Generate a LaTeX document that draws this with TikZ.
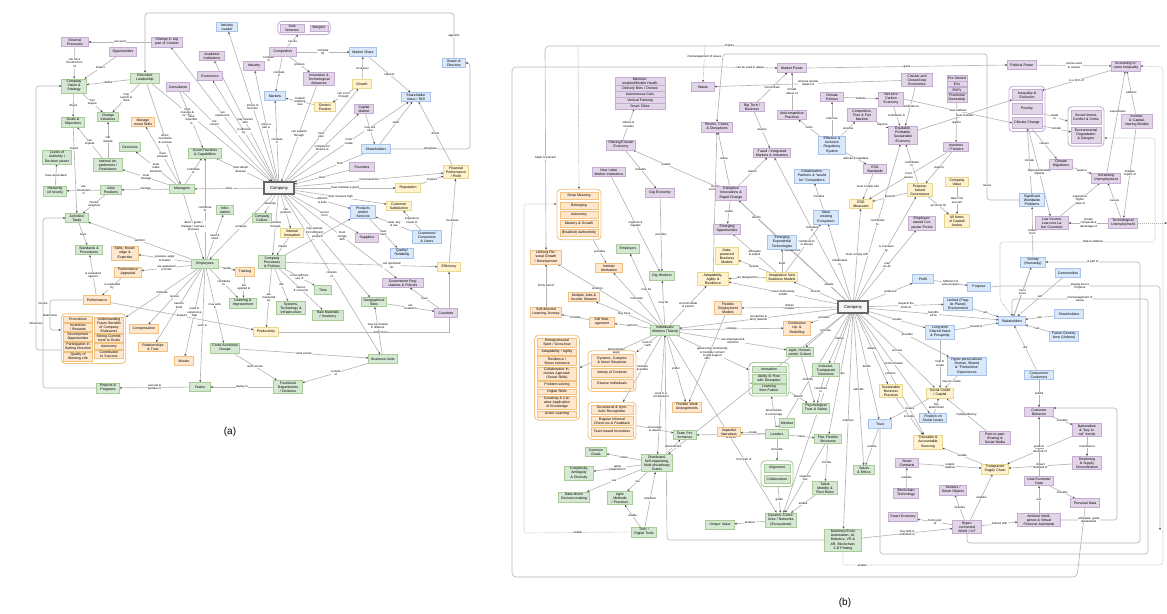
\documentclass[tikz,border=0pt]{standalone}
\usepackage{fontspec}
\setmainfont{Liberation Sans}
\usetikzlibrary{arrows.meta,fit,positioning,backgrounds}

\definecolor{grnfill}{HTML}{D5E8D4}
\definecolor{grnline}{HTML}{A9CB97}
\definecolor{purfill}{HTML}{E1D5E7}
\definecolor{purline}{HTML}{C4ACD3}
\definecolor{blufill}{HTML}{DAE8FC}
\definecolor{bluline}{HTML}{A8C3EA}
\definecolor{yelfill}{HTML}{FFF2CC}
\definecolor{yelline}{HTML}{E8D88E}
\definecolor{orgfill}{HTML}{FFE6CC}
\definecolor{orgline}{HTML}{EFC27F}
\definecolor{linkgray}{HTML}{B5B5B5}

\tikzset{box/.style={draw, line width=0.7pt, align=center, inner sep=1.3pt,
        font=\fontsize{3.5}{4.1}\selectfont, text width=20pt, minimum height=9pt},
    greenbox/.style={box, draw=grnline, fill=grnfill},
    purplebox/.style={box, draw=purline, fill=purfill},
    bluebox/.style={box, draw=bluline, fill=blufill},
    yellowbox/.style={box, draw=yelline, fill=yelfill},
    orangebox/.style={box, draw=orgline, fill=orgfill},
    tw/.style={text width=#1pt},
    item/.style={line width=0.45pt, inner sep=0.8pt, minimum height=5.5pt},
    grp/.style={draw, rounded corners=4pt, line width=0.9pt, inner sep=2.2pt},
    company/.style={draw=black!60, line width=1.3pt, fill=black!4, font=\fontsize{4.2}{5}\selectfont,
        minimum width=30pt, minimum height=12pt, inner sep=1pt},
    link/.style={draw=linkgray, line width=0.65pt, -{Stealth[length=2.2pt, width=2pt, color=black!75]}},
    dotlink/.style={link, dash pattern=on 1pt off 1pt},
    lbl/.style={font=\fontsize{2.9}{3.3}\selectfont, fill=white, inner sep=0.4pt, align=center, text=black},
    panel label/.style={font=\fontsize{10}{12}\selectfont},
}

\begin{document}
\begin{tikzpicture}[x=1pt, y=-1pt]
\useasboundingbox (0,0) rectangle (1167,613);

% ---------------- panel (a) ----------------
\node[purplebox, tw=24] (extp) at (75,42) {External Pressures};
\node[purplebox, tw=28] (chctx) at (167,42) {Change in any part of Context};
\node[bluebox, tw=18] (indlead) at (227,27) {Industry Leader};
\node[purplebox, tw=24] (opps) at (123,52) {Opportunities};
\node[purplebox, tw=22] (acad) at (212,56) {Academic Institutions};
\node[purplebox, tw=18] (indus) at (254,66) {Industry};
\node[greenbox, tw=22] (vision) at (74,86) {Company Vision \& Strategy};
\node[greenbox, tw=26] (exec) at (145,78) {Executive Leadership};
\node[purplebox, tw=22] (econ) at (210,76) {Economics};
\node[purplebox, tw=20] (consult) at (178,87) {Consultants};
\node[greenbox, tw=20] (goals) at (73,122) {Goals \& Objectives};
\node[greenbox, tw=18] (chinit) at (108,117) {Change Initiatives};
\node[orangebox, tw=20] (moral) at (143,122) {Manage moral Skills};
\node[greenbox, tw=18] (decis) at (130,147) {Decisions};
\node[greenbox, tw=30] (goodp) at (205,153) {Good Practices \& Capabilities};
\node[greenbox, tw=26] (levels) at (57,157) {Levels of Authority / Decision power};
\node[greenbox, tw=26] (imped) at (108,165) {Internal Impediments / Resistance};
\node[greenbox, tw=20] (hier) at (55,191) {Hierarchy (of levels)};
\node[greenbox, tw=18] (jobs) at (111,190) {Jobs/ Positions};
\node[greenbox, tw=22] (mgrs) at (182,189) {Managers};

\node[purplebox, item, tw=22] (jvent) at (292,28) {Joint Ventures};
\node[purplebox, item, tw=16] (mergers) at (319,28) {Mergers};
\node[grp, draw=purline, fit=(jvent)(mergers)] (jv) {};
\node[purplebox, tw=24] (compet) at (283,52) {Competitors};
\node[bluebox, tw=24] (mshare) at (363,52) {Market Share};
\node[purplebox, tw=28] (innov) at (319,79) {Innovation \& Technological Advances};
\node[yellowbox, tw=16] (growth) at (362,84) {Growth};
\node[bluebox, tw=18] (markets) at (275,96) {Markets};
\node[yellowbox, tw=18] (gpos) at (325,107) {Generic Position};
\node[purplebox, tw=16] (capmkt) at (364,109) {Capital Market};
\node[bluebox, tw=26] (shv) at (416,97) {Shareholder Value / ROI};
\node[bluebox, tw=20] (board) at (454,63) {Board of Directors};
\node[bluebox, tw=26] (shold) at (376,149) {Shareholders};
\node[purplebox, tw=22] (found) at (362,167) {Founders};
\node[yellowbox, tw=22] (finperf) at (456,172) {Financial Performance / Profit};
\node[company] (compA) at (279,188) {Company};
\node[yellowbox, tw=22] (reput) at (408,188) {Reputation};

\node[yellowbox, tw=22] (custsat) at (399,206) {Customer Satisfaction};
\node[greenbox, tw=16] (culture) at (262,218) {Company Culture};
\node[bluebox, tw=22] (prods) at (363,212) {Products and/or Services};
\node[yellowbox, tw=20] (intinn) at (292,233) {Internal Innovation};
\node[purplebox, tw=20] (suppl) at (367,238) {Suppliers};
\node[bluebox, tw=26] (custs) at (427,237) {Customers/ Consumers \& Users};
\node[bluebox, tw=20] (qual) at (402,253) {Quality/ Reliability};
\node[greenbox, tw=24] (procs) at (272,262) {Company Processes \& Policies};
\node[yellowbox, tw=20] (effic) at (449,267) {Efficiency};
\node[purplebox, tw=38] (govreg) at (403,283) {Government Regulations \& Policies};
\node[greenbox, tw=14] (time) at (323,290) {Time};
\node[greenbox, tw=26] (systech) at (291,308) {Systems, Technology \& Infrastructure};
\node[greenbox, tw=28] (rawmat) at (328,315) {Raw Materials / Inventory};
\node[greenbox, tw=22] (geo) at (374,302) {Geographical Sites};
\node[purplebox, tw=20] (countries) at (446,313) {Countries};
\node[yellowbox, tw=22] (prodty) at (266,332) {Productivity};
\node[greenbox, tw=26] (bu) at (383,359) {Business Units};
\node[greenbox, tw=26] (funcdep) at (288,387) {Functional Departments / Divisions};

\node[greenbox, tw=20] (acts) at (77,218) {Activities/ Tasks};
\node[greenbox, tw=15] (info) at (225,210) {Infor-mation};
\node[greenbox, tw=24] (stds) at (89,250) {Standards \& Procedures};
\node[orangebox, tw=24] (skills) at (125,253) {Skills, Knowledge \& Expertise};
\node[greenbox, tw=24] (emps) at (205,264) {Employees};
\node[orangebox, tw=16] (train) at (245,272) {Training};
\node[orangebox, tw=24] (appr) at (128,272) {Performance Appraisal};
\node[orangebox, tw=24] (perf) at (97,300) {Performance};
\node[greenbox, tw=24] (learn) at (243,303) {Learning \& Improvement};
% motivation group
\node[orangebox, item, tw=27] (m1) at (78,319) {Promotions};
\node[orangebox, item, tw=27, below=0.6pt of m1] (m2) {Incentives / Rewards};
\node[orangebox, item, tw=27, below=0.6pt of m2] (m3) {Development Opportunities};
\node[orangebox, item, tw=27, below=0.6pt of m3] (m4) {Participation in Setting Direction};
\node[orangebox, item, tw=27, below=0.6pt of m4] (m5) {Quality of Working Life};
\node[orangebox, item, tw=27] (m6) at (109,325) {Understanding Future Benefits of Company Endeavors};
\node[orangebox, item, tw=27, below=0.6pt of m6] (m7) {Strong Commitment to Goals};
\node[orangebox, item, tw=27, below=0.6pt of m7] (m8) {Autonomy};
\node[orangebox, item, tw=27, below=0.6pt of m8] (m9) {Contribution to Success};
\node[grp, draw=orgline, fit=(m1)(m5)(m6)(m9)] (motgrp) {};
\node[orangebox, tw=26] (comp) at (144,329) {Compensation};
\node[orangebox, tw=26] (reltr) at (153,347) {Relationships \& Trust};
\node[orangebox, tw=16] (morale) at (184,361) {Morale};
\node[greenbox, tw=26] (xfunc) at (225,348) {Cross-functional Groups};
\node[greenbox, tw=18] (teams) at (200,387) {Teams};
\node[greenbox, tw=20] (projs) at (108,388) {Projects \& Programs};

\node[panel label] at (230,432) {(a)};

% ---------------- panel (b) ----------------
\node[purplebox, item, tw=48] (st1) at (640,81) {Machine-enabled/Mobile Health};
\node[purplebox, item, tw=48, below=0pt of st1] (st2) {Delivery Bots / Drones};
\node[purplebox, item, tw=48, below=0pt of st2] (st3) {Autonomous Cars};
\node[purplebox, item, tw=48, below=0pt of st3] (st4) {Vertical Farming};
\node[purplebox, item, tw=48, below=0pt of st4] (st5) {Smart Cities};
\node[fit=(st1)(st5), inner sep=0pt] (bstack) {};
\node[purplebox, tw=26] (bshare) at (621,145) {Sharing/Circular Economy};
\node[purplebox, tw=30] (blabor) at (609,172) {New Labor Market Institutions};
\node[purplebox, tw=26] (bgig) at (660,193) {Gig Economy};
% meaning group
\node[orangebox, item, tw=36, minimum height=7pt] (mn1) at (579,196) {Deep Meaning};
\node[orangebox, item, tw=36, minimum height=7pt, below=1.8pt of mn1] (mn2) {Belonging};
\node[orangebox, item, tw=36, minimum height=7pt, below=1.8pt of mn2] (mn3) {Autonomy};
\node[orangebox, item, tw=36, minimum height=7pt, below=1.8pt of mn3] (mn4) {Mastery \& Growth};
\node[orangebox, item, tw=36, minimum height=7pt, below=1.8pt of mn4] (mn5) {(Enabled) Authenticity};
\node[grp, draw=orgline, fit=(mn1)(mn5), inner sep=3pt] (meaning) {};
\node[orangebox, tw=28] (blifelong) at (546,257) {Lifelong Personal Growth / Development};
\node[greenbox, tw=20] (bemployers) at (628,249) {Employers};
\node[orangebox, tw=24] (bintr) at (609,268) {Intrinsic Motivation};
\node[greenbox, tw=22] (bgigw) at (662,276) {Gig Workers};
\node[orangebox, tw=28] (bmulti) at (584,297) {Multiple Jobs \& Income Streams};
\node[orangebox, tw=28] (bselfdir) at (546,312) {Self-directed Learning Journey};
\node[orangebox, tw=22] (bselfm) at (602,322) {Self Management};
\node[greenbox, tw=26] (bindiv) at (665,330) {Individuals/ Workers (Talent)};

\node[purplebox, tw=26] (bmpower) at (792,68) {Market Power};
\node[purplebox, tw=20] (bwaste) at (703,87) {Waste};
\node[purplebox, tw=22] (bbigtech) at (752,107) {Big Tech / Business};
\node[purplebox, tw=26] (banti) at (792,115) {Anticompetitive Practices};
\node[purplebox, tw=20] (bclimpol) at (832,97) {Climate Policies};
\node[purplebox, tw=28] (bshocks) at (717,127) {Shocks, Crises, \& Disruptions};
\node[purplebox, tw=34] (bfused) at (772,153) {Fused / Integrated Markets \& Industries};
\node[bluebox, tw=24] (bregsys) at (832,145) {Effective \& Inclusive Regulatory System};
\node[bluebox, tw=32] (bcollab) at (812,176) {Collaboration, Partners \& ``would be'' Competitors};
\node[purplebox, tw=28] (bdisrupt) at (731,193) {Disruptive Innovations \& Rapid Change};
\node[bluebox, tw=22] (bvalue) at (826,217) {Value creating Ecosystem};
\node[purplebox, tw=24] (bemerg) at (727,229) {Emerging Opportunities};
\node[bluebox, tw=26] (bexpon) at (782,242) {Emerging Exponential Technologies};
\node[yellowbox, tw=20] (bdata) at (727,256) {Data-powered Business Models};
\node[yellowbox, tw=28] (bimag) at (782,277) {Imaginative New Business Models};
\node[yellowbox, tw=28] (badapt) at (713,279) {Adaptability, Agility \& Resilience};
\node[orangebox, tw=24] (bflex) at (728,308) {Flexible Employment Models};
\node[company] (compB) at (853,307) {Company};

\node[purplebox, tw=28] (bcirc) at (917,80) {Circular and Closed-loop Economies};
\node[purplebox, item, tw=18] (pr1) at (957,78) {Pre-Owned};
\node[purplebox, item, tw=18, below=0pt of pr1] (pr2) {EVs};
\node[purplebox, item, tw=18, below=0pt of pr2] (pr3) {RVPs};
\node[purplebox, item, tw=18, below=0pt of pr3] (pr4) {Fractional Ownership};
\node[fit=(pr1)(pr4), inner sep=0pt] (bpre) {};
\node[purplebox, tw=22] (bnetzero) at (891,99) {Net-zero Carbon Economy};
\node[purplebox, tw=26] (bcompet) at (862,115) {Competitive, Free \& Fair Markets};
\node[purplebox, tw=26] (bequit) at (903,135) {Equitable, Profitable, Sustainable Economy};
\node[purplebox, tw=22] (binvest) at (956,147) {Investors / Funders};
\node[purplebox, tw=20] (besgstd) at (875,169) {ESG Standards};
\node[yellowbox, tw=20] (bcval) at (957,182) {Company Value};
\node[yellowbox, tw=22] (bpurpg) at (920,190) {Purpose-based Governance};
\node[yellowbox, tw=20] (besgm) at (861,204) {ESG Measures};
\node[yellowbox, tw=22] (ballcap) at (957,221) {All forms of Capital/ Assets};
\node[purplebox, tw=24] (bempown) at (922,223) {Employee-owned Corporate Forms};
\node[bluebox, tw=18] (bprofit) at (923,279) {Profit};
\node[bluebox, tw=20] (bpurpose) at (979,287) {Purpose};
\node[bluebox, tw=26] (blimited) at (958,304) {Limited (Fragile Planet) Environment};
\node[bluebox, tw=24] (bstake) at (1012,321) {Stakeholders};

\node[purplebox, tw=26] (bpolit) at (1022,65) {Political Power};
\node[purplebox, tw=26] (bincineq) at (1126,66) {Increasing Income Inequality};
\node[purplebox, item, tw=28, minimum height=11pt] (g1a) at (1027,95) {Inequality \& Exclusion};
\node[purplebox, item, tw=28, minimum height=11pt, below=2.5pt of g1a] (g1b) {Poverty};
\node[purplebox, item, tw=28, minimum height=11pt, below=2.5pt of g1b] (g1c) {Climate Change};
\node[grp, draw=purline, fit=(g1a)(g1c), inner sep=3pt] (grpone) {};
\node[purplebox, item, tw=28, minimum height=14pt] (g2a) at (1086,117) {Social Unrest, Conflict \& Crime};
\node[purplebox, item, tw=28, minimum height=16pt, below=2.5pt of g2a] (g2b) {Environmental Degradation \& Dangers};
\node[grp, draw=purline, fit=(g2a)(g2b), inner sep=3pt] (grptwo) {};
\node[purplebox, tw=28] (bincsh) at (1137,121) {Income- \& Capital-sharing Models};
\node[purplebox, tw=20] (bclmig) at (1061,164) {Climate Migrations};
\node[purplebox, tw=26] (bincunemp) at (1106,178) {Increasing Unemployment};
\node[bluebox, tw=22] (bsigprob) at (1032,200) {Significant Worldwide Problems};
\node[purplebox, tw=30] (blowinc) at (1052,223) {Low Income, Low-cost Labor Countries};
\node[purplebox, tw=26] (btechunemp) at (1123,223) {Technological Unemployment};
\node[bluebox, tw=22] (bsociety) at (1033,262) {Society (Humanity)};
\node[bluebox, tw=22] (bcomm) at (1068,273) {Communities};
\node[bluebox, tw=26] (bshold) at (1069,314) {Shareholders};
\node[bluebox, tw=26] (bfuture) at (1064,336) {Future Generations (Unborn)};
\node[bluebox, tw=26] (bconsum) at (1039,375) {Consumers/ Customers};
\node[purplebox, tw=26] (bcustbeh) at (1039,412) {Customer Behavior};
\node[purplebox, tw=26] (bnation) at (1087,430) {Nationalism \& ``buy local'' trends};
\node[purplebox, tw=26] (breshore) at (1087,463) {Reshoring \& Supply Diversification};
\node[purplebox, tw=26] (buserdata) at (1039,481) {User/Customer Data};
\node[purplebox, tw=26] (bpersdata) at (1085,503) {Personal Data};
\node[purplebox, tw=40] (bambient) at (1039,520) {Ambient Intelligence \& Virtual Personal Assistants};

\node[bluebox, tw=26] (blongterm) at (940,332) {Long-term Shared Value \& Prosperity};
\node[bluebox, tw=36] (bhyper) at (967,366) {Hyper-personalized, Human, Shared \& ``Frictionless'' Experiences};
\node[yellowbox, tw=20] (bsustbp) at (891,391) {Sustainable Business Practices};
\node[yellowbox, tw=24] (bsoccred) at (940,393) {Social Credit / Capital};
\node[bluebox, tw=20] (btrust) at (880,424) {Trust};
\node[bluebox, tw=24] (bposit) at (933,418) {Position on Social Issues};
\node[yellowbox, tw=26] (btrace) at (928,442) {Traceable \& Accountable Sourcing};
\node[purplebox, tw=28] (bp2p) at (995,438) {Peer-to-peer Sharing \& Social Media};
\node[purplebox, tw=20] (bsmartc) at (907,463) {Smart Contracts};
\node[yellowbox, tw=24] (btransp) at (995,469) {Transparent Supply Chain};
\node[greenbox, tw=18] (bvalues) at (864,470) {Values \& Ethics};
\node[purplebox, tw=24] (bsensors) at (953,490) {Sensors / Smart Objects};
\node[purplebox, tw=22] (bblock) at (906,493) {Blockchain Technology};
\node[purplebox, tw=26] (bsmarte) at (903,517) {Smart Economy};
\node[purplebox, tw=26] (bhypcon) at (967,527) {Hyper-connected World / IoT};
\node[greenbox, tw=34] (bmachines) at (843,540) {Machines/Tools Automation, AI, Robotics, VR \& AR, Blockchain, 3-D Printing};

\node[orangebox, tw=24] (bupskill) at (797,328) {Continuous Up- \& Reskilling};
\node[greenbox, tw=24] (bagile) at (800,352) {Agile, Human-centric Culture};
\node[greenbox, item, tw=32, minimum height=6.5pt] (in1) at (769,369) {Innovation};
\node[greenbox, item, tw=32, below=1.2pt of in1] (in2) {Ability to Flow with Disruption};
\node[greenbox, item, tw=32, below=1.2pt of in2] (in3) {Learning from Failure};
\node[grp, draw=grnline, fit=(in1)(in3), inner sep=3pt] (innogrp) {};
\node[greenbox, tw=24] (bincl) at (826,370) {Inclusive, Transparent Decisions};
\node[orangebox, tw=26] (bflexwork) at (687,407) {Flexible Work Arrangements};
\node[greenbox, tw=24] (bpsych) at (816,408) {Psychological Trust \& Safety};
\node[greenbox, tw=13] (bmindset) at (787,423) {Mindset};
\node[greenbox, tw=20] (bleaders) at (777,434) {Leaders};
\node[orangebox, tw=20] (bimpact) at (729,432) {Impactful Narratives};
\node[greenbox, tw=20] (bteamp) at (685,435) {Team Performance};
\node[greenbox, tw=24] (bflat) at (828,439) {Flat, Flexible Structures};
\node[greenbox, item, tw=24, minimum height=8pt] (al1) at (777,468) {Alignment};
\node[greenbox, item, tw=24, minimum height=8pt, below=3pt of al1] (al2) {Collaboration};
\node[grp, draw=grnline, fit=(al1)(al2), inner sep=3pt] (aligngrp) {};
\node[greenbox, tw=22] (btalent) at (825,488) {Talent Mobility \& Flexi-Roles};
\node[greenbox, tw=28] (bdynamic) at (781,520) {Dynamic Collectives / Networks (Ecosystems)};
\node[greenbox, tw=26] (bunique) at (720,525) {Unique Value};

% skills group
\node[orangebox, item, tw=37] (sk1) at (557,343) {Entrepreneurial Spirit / Grow-how};
\node[orangebox, item, tw=37, below=1.4pt of sk1] (sk2) {Adaptability / Agility};
\node[orangebox, item, tw=37, below=1.4pt of sk2] (sk3) {Resilience / Stress tolerance};
\node[orangebox, item, tw=37, below=1.4pt of sk3] (sk4) {Collaborative Inclusive Approach (Social Skills)};
\node[orangebox, item, tw=37, below=1.4pt of sk4] (sk5) {Problem-solving};
\node[orangebox, item, tw=37, below=1.4pt of sk5] (sk6) {Digital Skills};
\node[orangebox, item, tw=37, below=1.4pt of sk6] (sk7) {Creativity \& Creative Application of Knowledge};
\node[orangebox, item, tw=37, below=1.4pt of sk7] (sk8) {Active Learning};
\node[grp, draw=orgline, fit=(sk1)(sk8), inner sep=3pt] (skillgrp) {};
\node[orangebox, item, tw=40, minimum height=12pt] (si1) at (612,360) {Dynamic, Complex \& Novel Situations};
\node[orangebox, item, tw=40, minimum height=9pt, below=1.6pt of si1] (si2) {Variety of Contexts};
\node[orangebox, item, tw=40, minimum height=9pt, below=1.6pt of si2] (si3) {Diverse Individuals};
\node[grp, draw=orgline, fit=(si1)(si3), inner sep=3pt] (situgrp) {};
\node[orangebox, item, tw=40, minimum height=9pt] (rc1) at (612,410) {Occasional \& Symbolic Recognition};
\node[orangebox, item, tw=40, minimum height=9pt, below=1.4pt of rc1] (rc2) {Regular Informal Check-ins \& Feedback};
\node[orangebox, item, tw=40, minimum height=9pt, below=1.4pt of rc2] (rc3) {Team based Incentives};
\node[grp, draw=orgline, fit=(rc1)(rc3), inner sep=3pt] (recoggrp) {};
\node[greenbox, tw=18] (bcommon) at (596,452) {Common Goals};
\node[greenbox, tw=28] (bdistrib) at (657,463) {Distributed, Self-organizing, Multi-disciplinary Teams};
\node[greenbox, tw=26] (bcomplex) at (579,473) {Complexity, Ambiguity \& Diversity};
\node[greenbox, tw=28] (bdatadr) at (574,497) {Data-driven Decision-making};
\node[greenbox, tw=22] (bagilem) at (620,498) {Agile Methods / Practices};
\node[greenbox, tw=22] (btech) at (644,532) {Tech / Digital Tools};

\node[panel label] at (845,603) {(b)};

\begin{scope}[on background layer]
% ---- (a) company links
\foreach \t/\l in {indlead/{strives to\\become}, acad/{may interact\\with}, indus/{plays a\\part in},
    markets/{compete\\in}, growth/{must\\plan}, capmkt/{compete for\\finance in},
    shv/{must\\create}, finperf/{must maximize}, reput/{must maintain a good}, custsat/{must measure high},
    prods/{delivers\\\& sells}, suppl/{source\\from}, govreg/{must\\comply\\with},
    bu/{consists\\of}, intinn/{can\\produce}, culture/{develops}, procs/{operates\\through},
    goodp/{must adopt/\\develop}, chctx/{can\\experience}, econ/{is affected\\by}, emps/{employs}, mgrs/{hires}}
    \draw[link] (compA) -- node[lbl]{\l} (\t);
\draw[link] (compA) -- node[lbl, pos=.35]{may operate\\from different} (geo);
\draw[link] (found) -- node[lbl]{start} (compA);
\draw[link] (shold) -- node[lbl, pos=.35]{fund} (compA);
\draw[link] (innov) -- node[lbl]{can expand\\through} (compA);
\draw[link] (consult) -- node[lbl, pos=.35]{can\\consult} (compA);
\draw[link] (exec) -- node[lbl, pos=.3]{must\\manage \&\\oversee} (compA);
% ---- (a) others
\draw[link] (chctx) -- node[lbl]{can exert} (extp);
\draw[link] (extp) -- node[lbl]{can force\\the direction\\of} (vision);
\draw[link] (opps) -- node[lbl]{impact} (vision);
\draw[link] (exec) -- node[lbl]{define} (vision);
\draw[link] (exec) -- node[lbl]{may\\launch \&\\drive} (chinit);
\draw[link] (vision) -- node[lbl]{can\\require} (chinit);
\draw[link] (vision) -- node[lbl]{drives} (goals);
\draw[link] (exec) -- node[lbl, pos=.55]{direct,\\incentivize\\\& oversee} (mgrs);
\draw[link] (imped) -- node[lbl]{can\\impede} (goals);
\draw[link] (imped) -- node[lbl]{can\\impede} (chinit);
\draw[link] (mgrs) -- node[lbl]{must\\manage} (imped);
\draw[link] (mgrs) -- node[lbl]{must\\make\\decisions} (decis);
\draw[link] (mgrs) -- node[lbl]{must\\possess} (moral);
\draw[link] (mgrs) -- node[lbl]{manage} (jobs);
\draw[link] (hier) -- node[lbl]{have associated} (levels);
\draw[link] (jobs) -- node[lbl]{are\\structured\\in} (hier);
\draw[link] (goals) -- node[lbl, pos=.25]{impact} (acts);
\draw[link] (jobs) -- node[lbl]{involve\\assigned} (acts);
\draw[link] (consult) -- node[lbl]{have\\expertise\\in} (goodp);
\draw[link] (mgrs) -- node[lbl]{contribute\\to} (goodp);
\draw[link] (emps) -- node[lbl]{contribute\\to} (goodp);
\draw[link] (compet) -- node[lbl]{compete\\in} (indus);
\draw[link] (compet) -- node[lbl]{compete\\in} (markets);
\draw[link] (compet) -- node[lbl]{compete\\for} (mshare);
\draw[link] (compet) -- node[lbl]{can do} (jv);
\draw[link] (compet) -- node[lbl]{produce} (innov);
\draw[link] (gpos) -- node[lbl]{creates/\\enabling\\new} (markets);
\draw[link] (growth) -- node[lbl]{increases} (mshare);
\draw[link] (growth) -- node[lbl]{can occur\\through} (gpos);
\draw[link] (mshare) -- node[lbl]{impacts} (shv);
\draw[link] (capmkt) -- node[lbl]{may sell\\new} (shold);
\draw[link] (shold) -- node[lbl]{want} (shv);
\draw[link, rounded corners=3pt] (shold.east) -- node[lbl]{designate} (470,149) -- (470,80) -- (board.south -| 470,0) |- (board.east);
\draw[link] (finperf) -- node[lbl]{drives} (shv);
\draw[link] (reput) -- node[lbl]{impacts} (finperf);
\draw[link] (custs) -- node[lbl]{value, buy\\\& use} (prods);
\draw[link] (custs) -- node[lbl]{experience\\levels of} (custsat);
\draw[link] (prods) -- node[lbl]{must\\have} (qual);
\draw[link] (countries) -- node[lbl]{have} (govreg);
\draw[link] (geo) -- node[lbl]{are\\located in} (countries);
\draw[link] (bu) -- node[lbl, pos=.6]{may be located\\in different} (geo);
\draw[link] (bu) -- node[lbl]{consist\\of} (funcdep);
\draw[link] (xfunc) -- node[lbl]{work across} (bu);
\draw[link] (procs) -- node[lbl, pos=.7]{are optimized\\for} (effic);
\draw[link] (effic) -- node[lbl]{increases} (finperf);
\draw[link] (prodty) -| node[lbl, pos=.3]{determines} (effic);
\draw[link] (procs) -- node[lbl]{must optimize\\use of} (time);
\draw[link] (procs) -- node[lbl]{source\\\& consume} (rawmat);
\draw[link] (procs) -- node[lbl]{use} (systech);
\draw[link] (procs) -- node[lbl]{are\\measured\\by} (prodty);
\draw[link] (intinn) -- node[lbl]{impact} (procs);
\draw[link] (procs) -- node[lbl]{produce} (prods);
\draw[link] (emps) -- node[lbl]{perform} (acts);
\draw[link] (emps) -- node[lbl]{possess, apply\\\& master} (skills);
\draw[link] (appr) -- node[lbl]{is evaluated\\by} (perf);
\draw[link] (perf) -- node[lbl]{is evaluated\\against} (stds);
\draw[link] (emps) -- node[lbl]{are appraised\\in terms} (appr);
\draw[link] (emps) -- node[lbl]{motivate} (motgrp);
\draw[link] (emps) -- node[lbl]{receive} (comp);
\draw[link] (emps) -- node[lbl]{need to\\build} (reltr);
\draw[link] (emps) -- node[lbl]{need to\\experience\\high} (morale);
\draw[link] (emps) -- node[lbl]{work in} (teams);
\draw[link] (emps) -- node[lbl]{may work\\in} (xfunc);
\draw[link] (emps) -- node[lbl]{needs} (train);
\draw[link] (emps) -- node[lbl]{contribute\\to} (learn);
\draw[link] (emps) -- node[lbl]{need \&\\share} (info);
\draw[link] (train) -- node[lbl]{are\\applied to} (learn);
\draw[link] (mgrs) -- node[lbl]{direct / guide /\\manage / oversee /\\pressure} (emps);
\draw[link] (acts) -- node[lbl]{have} (stds);
\draw[link] (teams) -- node[lbl]{execute \&\\partake in} (projs);
\draw[link] (xfunc) -- node[lbl]{work across} (funcdep);
\draw[link] (funcdep) -- node[lbl]{deploy to} (teams);
\draw[link] (perf) -- node[lbl]{impacts} (prodty);
\draw[link, rounded corners=3pt] (board.north) -- node[lbl]{appoints} (454,13) -- (145,13) -- (exec.north);
\draw[link, rounded corners=3pt] (projs.west) -- (43,388) -- node[lbl]{involve} (43,218) -- (acts.west);
\draw[link, rounded corners=3pt] (motgrp.west |- 0,350) -- (36,350) -- node[lbl, pos=.1]{influences} (36,86) -- (vision.west);
\draw[link, rounded corners=3pt] (perf.west) -- (50,300) -- node[lbl]{determines} (50,330) -- (motgrp.west |- 0,330);

% ---- (b) company links
\foreach \t/\l in {bindiv/{recognizes \&\\fairly rewards}, bflex/{utilizes\\multiple}, badapt/{must continuously\\exhibit},
    bimag/{invents}, bdisrupt/{experiences}, bfused/{competes\\in}, bvalue/{collaborates\\in}, bequit/{contributes\\to},
    besgm/{must comply with}, bpurpg/{is overseen\\by}, bempown/{may\\be an}, bprofit/{produces},
    blimited/{respects the\\limits of}, bstake/{benefits\\all its}, blongterm/{creates}, bhyper/{provides},
    bsustbp/{adopts}, bsoccred/{accrues}, btrust/{builds}, bvalues/{upholds}, bmachines/{employs},
    bleaders/{has}, bflat/{adopts}, bincl/{makes}, bagile/{nurtures}, bupskill/{provides},
    bdynamic/{forms part of}, bposit/{communicates}, btrace/{ensures}, bdistrib/{organizes}}
    \draw[link] (compB) -- node[lbl]{\l} (\t);
\draw[link] (compB) -- node[lbl, pos=.3]{adopts} (bexpon);
% ---- (b) others
\draw[link] (bshare) -- node[lbl]{utilizes \&\\includes} (bstack);
\draw[link] (bshare) -- node[lbl]{includes} (bgig);
\draw[link] (bdisrupt) -- node[lbl, pos=.6]{enable} (bshare);
\draw[link] (blabor) -- node[lbl]{organize \&\\regulate} (bgigw);
\draw[link] (bgig) -- node[lbl]{provides} (bgigw);
\draw[link] (bindiv) -- node[lbl]{may be} (bemployers);
\draw[link] (bindiv) -- node[lbl]{may be} (bgigw);
\draw[link] (bindiv) -- node[lbl]{motivates} (bintr);
\draw[link] (meaning) -- node[lbl]{provides} (bintr);
\draw[link] (bindiv) -- node[lbl]{may have} (bmulti);
\draw[link] (bindiv) -- node[lbl, pos=.6]{undergo} (blifelong);
\draw[link] (bindiv) -- node[lbl]{perform} (bselfm);
\draw[link] (bselfm) -- node[lbl]{includes} (bselfdir);
\draw[link] (bselfdir) -- node[lbl]{forms part of} (blifelong);
\draw[link] (bdisrupt) -- node[lbl]{create} (bemerg);
\draw[link] (bdisrupt) -- node[lbl]{lead to} (bfused);
\draw[link] (bdisrupt) -- node[lbl]{cause} (bshocks);
\draw[link] (badapt) -- node[lbl, pos=.6]{enable\\survival of} (bshocks);
\draw[link] (bimag) -- node[lbl]{include} (bdata);
\draw[link] (bimag) -- node[lbl]{anticipate\\\& exploit} (bemerg);
\draw[link] (bimag) -- node[lbl]{are designed for} (badapt);
\draw[link] (bexpon) -- node[lbl]{lead to} (bdisrupt);
\draw[link] (bimag) -- node[lbl, pos=.4]{build} (bexpon);
\draw[link] (bimag) -- node[lbl, pos=.6]{contribute to\\or disrupt} (bvalue);
\draw[link] (bvalue) -- node[lbl]{includes} (bcollab);
\draw[link] (bbigtech) -- node[lbl]{concentrate} (bmpower);
\draw[link] (banti) -- node[lbl]{include\\abuse of} (bmpower);
\draw[link] (bbigtech) -- node[lbl]{acquire} (bfused);
\draw[link] (bregsys) -- node[lbl]{curbs} (banti);
\draw[link] (bregsys) -- node[lbl]{ensures} (bcompet);
\draw[link] (bregsys) -- node[lbl]{enforces} (bclimpol);
\draw[link] (bindiv) -- node[lbl]{accommodate\\\& protect} (badapt);
\draw[link] (bclimpol) -- node[lbl]{institute} (bnetzero);
\draw[link] (bnetzero) -- node[lbl]{contributes to} (bequit);
\draw[link] (bcirc) -- node[lbl]{contributes to} (bequit);
\draw[link] (bcompet) -- node[lbl]{requires} (bequit);
\draw[link] (bpre) -- node[lbl]{require} (binvest);
\draw[link] (binvest) -- node[lbl]{must\\assess} (besgm);
\draw[link] (binvest) -- node[lbl]{support} (bpurpg);
\draw[link] (bpurpg) -- node[lbl]{governs} (besgm);
\draw[link] (bpurpg) -- node[lbl]{accounts for} (ballcap);
\draw[link] (bcval) -- node[lbl]{takes into\\account} (ballcap);
\draw[link] (bpurpg) -- node[lbl]{contributes\\to} (bequit);
\draw[link] (besgstd) -- node[lbl]{must comply with} (besgm);
\draw[link] (bregsys) -- node[lbl]{defines \& regulates} (besgstd);
\draw[link] (bcirc) -- node[lbl]{ensures neutral\\impact of} (bwaste);
\draw[link] (bnetzero.east) -- node[lbl]{must address} (g1c.west);
\draw[link] (bequit) -- node[lbl]{must maintain} (g1a);
\draw[link] (bprofit) -- node[lbl]{fulfilment of\\wise purpose} (bpurpose);
\draw[link] (blimited) -- node[lbl]{are} (bstake);
\draw[link] (bsociety) -- node[lbl]{are} (bstake);
\draw[link] (bcomm) -- node[lbl]{are} (bstake);
\draw[link] (bshold) -- node[lbl]{are} (bstake);
\draw[link] (bfuture) -- node[lbl]{are} (bstake);
\draw[link] (bconsum) -- node[lbl]{are} (bstake);
\draw[link] (bstake) -- node[lbl]{must\\serve} (bsociety);
\draw[link] (blongterm) -- node[lbl]{benefit to} (bstake);
\draw[link] (bconsum) -- node[lbl]{exhibit} (bcustbeh);
\draw[link] (bcustbeh) -- node[lbl]{includes} (bnation);
\draw[link] (bnation) -- node[lbl]{contribute to} (breshore);
\draw[link] (bnation) -- node[lbl]{impact\\demand of} (btransp);
\draw[link] (breshore) -- node[lbl]{impact\\demand of} (btransp);
\draw[link] (buserdata) -- node[lbl]{predicts} (bcustbeh);
\draw[link] (bambient) -- node[lbl]{use} (buserdata);
\draw[link] (buserdata) -- node[lbl]{includes} (bpersdata);
\draw[link, rounded corners=3pt] (bambient.east) -- node[lbl]{anticipate, guide\\\& automate} (1117,520) -- (1117,408) -- (bcustbeh.east |- 0,408);
\draw[link] (bhypcon) -- node[lbl]{interact with} (bambient);
\draw[link] (bhypcon) -- node[lbl]{enables} (btransp);
\draw[link] (bhypcon) -- node[lbl]{includes} (bsensors);
\draw[link] (bhypcon) -- node[lbl]{forms part\\of} (bsmarte);
\draw[link] (bblock) -- node[lbl]{enables} (bsmartc);
\draw[link] (bsmartc) -- node[lbl]{enable\\realtime} (btransp);
\draw[link] (btransp) -- node[lbl]{enable} (btrace);
\draw[link] (bsustbp) -- node[lbl]{includes} (btrace);
\draw[link] (bsoccred) -- node[lbl]{creates} (btrust);
\draw[link] (bposit) -- node[lbl]{key\\determinant} (bsoccred);
\draw[link] (bhyper) -- node[lbl]{may be create} (bsoccred);
\draw[link] (blongterm) -- node[lbl]{help to\\create} (bsoccred);
\draw[link] (bp2p) -- node[lbl]{multiply/destroy} (bsoccred);
\draw[link] (btrust) -- node[lbl]{enable} (bvalues);
\draw[link] (bmachines) -- node[lbl]{may help \&\\contribute to} (bhypcon);
\draw[link] (bsociety) -- node[lbl]{suffers\\from} (bsigprob);
\draw[link] (bsigprob) -- node[lbl]{include} (g1c);
\draw[link] (g1b) -- node[lbl]{leads\\to} (grptwo);
\draw[link] (g1c) -- node[lbl]{include} (g2b);
\draw[link] (g1c) -- node[lbl]{causes} (bclmig);
\draw[link] (bclmig) -- node[lbl]{leads to} (bincunemp);
\draw[link] (g1c) -- node[lbl]{disproportionately\\impacts} (blowinc);
\draw[link] (blowinc) -- node[lbl]{experience\\higher\\rates of} (bincunemp);
\draw[link] (btechunemp) -- node[lbl]{erodes\\comparative\\advantage of} (blowinc);
\draw[link] (btechunemp) -- node[lbl]{causes} (bincunemp);
\draw[link] (bincsh) -- node[lbl]{mitigate\\impact of} (btechunemp);
\draw[link] (bincsh) -- node[lbl]{address} (bincineq);
\draw[link] (bincunemp) -- node[lbl, pos=.6]{exacerbates} (bincineq);
\draw[link] (bincineq) -- node[lbl]{is a form of} (g1a);
\draw[link] (bpolit) -- node[lbl]{can be used\\to sustain} (bincineq);
\draw[link] (bmpower.east) -- node[lbl]{gives} (bpolit.west);
\draw[link] (bindiv) -- node[lbl]{work in \&\\contribute to} (bdistrib);
\draw[link] (bindiv) -- node[lbl]{demonstrate/\\apply} (skillgrp);
\draw[link] (bindiv) -- node[lbl]{work in\\/ with} (situgrp);
\draw[link] (bindiv) -- node[lbl]{motivate\\\& guides} (recoggrp);
\draw[link] (recoggrp) -- node[lbl]{encourage\\\& reward} (bteamp);
\draw[link] (bdistrib) -- node[lbl]{share} (bcommon);
\draw[link] (bdistrib) -- node[lbl]{apply\\judgement in} (bcomplex);
\draw[link] (bdistrib) -- node[lbl]{use} (bdatadr);
\draw[link] (bdistrib) -- node[lbl]{use} (bagilem);
\draw[link] (btech) -- node[lbl]{empower} (bdistrib);
\draw[link] (btech) -- node[lbl]{enable} (bagilem);
\draw[link] (bdistrib) -- node[lbl]{demonstrate} (bteamp);
\draw[link] (bleaders) -- node[lbl]{create} (bimpact);
\draw[link] (bleaders) -- node[lbl]{stimulate} (aligngrp);
\draw[link] (bleaders) -- node[lbl]{demonstrate\\\& encourage} (innogrp);
\draw[link] (bleaders) -- node[lbl]{question \&\\transform} (bmindset);
\draw[link] (innogrp) -- node[lbl]{ensure} (bpsych);
\draw[link] (bleaders) -- node[lbl]{have} (bflat);
\draw[link] (bleaders) -- node[lbl]{assess,\\empower\\\& serve} (bteamp);
\draw[link] (aligngrp) -- node[lbl]{guide} (bdynamic);
\draw[link] (btalent) -- node[lbl]{enable} (bdynamic);
\draw[link] (bflat) -- node[lbl]{include} (btalent);
\draw[link] (bflat) -- node[lbl]{organize\\into} (bdynamic);
\draw[link] (bdynamic) -- node[lbl]{produce} (bunique);
\draw[link] (bindiv) -- node[lbl, pos=.7]{form part of} (bdynamic);
\draw[link] (bindiv) -- node[lbl]{prefer} (bflexwork);
\draw[link] (bindiv) -- node[lbl]{undergo} (bupskill);
\draw[link] (bindiv) -- node[lbl]{are empowered \&\\cared for} (bagile);
\draw[link] (bindiv) -- node[lbl]{generously, emotionally\\\& mentally connect\\to and support} (innogrp);
\draw[link] (bagile) -- node[lbl]{ensures} (bpsych);
\draw[link] (bincl) -- node[lbl]{contribute\\to} (bpsych);
\draw[link] (bflex) -- node[lbl]{offer} (bflexwork);
\draw[link, rounded corners=3pt] (bmachines.west) -- (667,540) -- (bindiv.south);
% long routes (b)
\draw[link, rounded corners=4pt] (1160,46) -- node[lbl, pos=.7]{implies} (545,46) -- node[lbl, pos=.55]{helps to prevent} (blifelong.north);
\draw[dotlink] (578,46) -- (meaning.north);
\draw[dotlink] (705,46) -- node[lbl, pos=.3]{mismanagement of issues} (bwaste.north);
\draw[dotlink, rounded corners=3pt] (btech.west) -- node[lbl]{enable} (524,533) -- (524,204) -- (meaning.west |- 0,204);
\draw[link, rounded corners=4pt] (bpersdata.south) -- (1077,577) -- (512,577) -- (512,67) -- (723,67) -- node[lbl]{can be used to abuse} (bmpower.west);
\draw[link, rounded corners=3pt] (bsigprob.west) -- (987,200) -- node[lbl, pos=.1]{issues} (987,54) -- (723,54) -- (bshocks.north);
\draw[link, rounded corners=3pt] (bhypcon.south) -- (967,543) -- (1140,543) -- (1140,262) -- node[lbl, pos=.5]{is part of} (bsociety.east);
\draw[link, rounded corners=3pt] (btrust.south) -- (880,554) -- (1148,554) -- (1148,299) -- node[lbl]{mismanagement of\\issues} (1012,299) -- (bstake.north);
\draw[link, rounded corners=3pt] (bpurpose.east) -- (1000,286) -- node[lbl]{staying true to\\Purpose} (1160,286) -- (1160,530);
\draw[dotlink, rounded corners=3pt] (bmachines.south) -- (843,565) -- node[lbl, pos=.06]{enable} (1163,565) -- (1163,67) -- (bincineq.east);
\draw[dotlink, rounded corners=3pt] (bstake.north) -- (1000,300) -- (1000,242) -- node[lbl, pos=.6]{help to address} (1155,242) -- (1155,138) -- (grptwo.east |- 0,138);
\draw[dotlink] (btechunemp.east) -- (1167,223);
\end{scope}
\end{tikzpicture}
\end{document}
